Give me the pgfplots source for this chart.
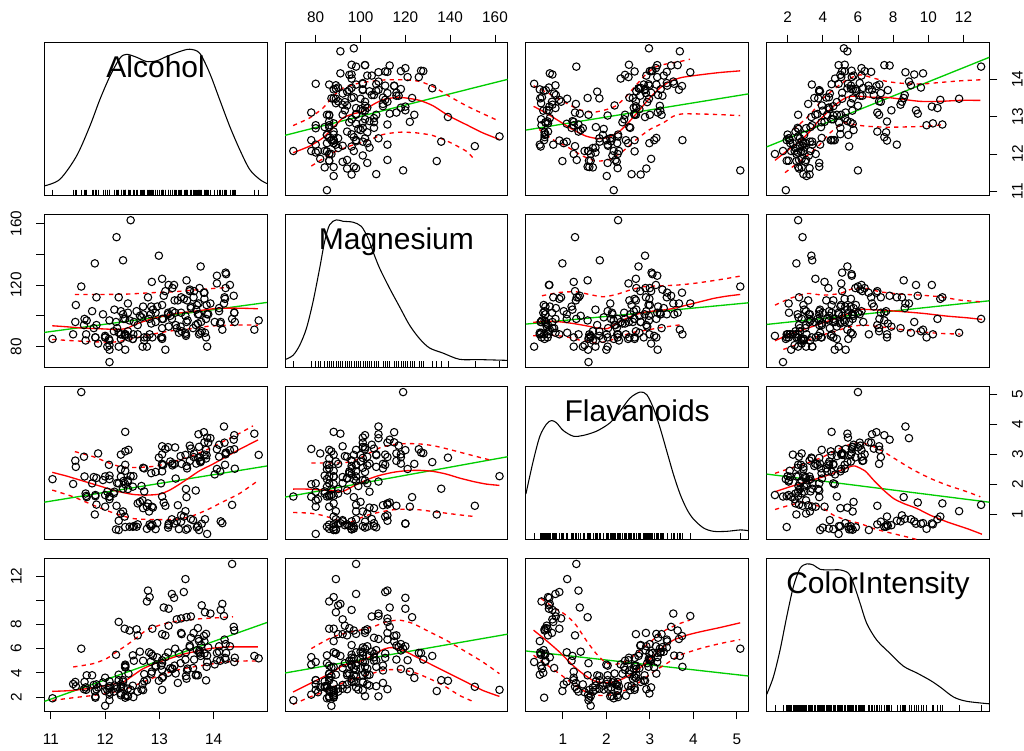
\documentclass[border=0pt]{standalone}
\usepackage{fontspec}
\setmainfont{Liberation Sans}
\usepackage{pgfplots}
\usepackage{pgfplotstable}
\pgfplotsset{compat=1.18}
\definecolor{green3}{RGB}{0,205,0}

\pgfplotstableread{
a m f c
14.23 127 3.06 5.64
13.20 100 2.76 4.38
13.16 101 3.24 5.68
14.37 113 3.49 7.80
13.24 118 2.69 4.32
14.20 112 3.39 6.75
14.39 96 2.52 5.25
14.06 121 2.51 5.05
14.83 97 2.98 5.20
13.86 98 3.15 7.22
14.10 105 3.32 5.75
14.12 95 2.43 5.00
13.75 89 2.76 5.60
14.75 91 3.69 5.40
14.38 102 3.64 7.50
13.63 112 2.91 7.30
14.30 120 3.14 6.20
13.83 115 3.40 6.60
14.19 108 3.93 8.70
13.64 116 3.03 5.10
14.06 126 3.17 5.65
12.93 102 2.41 4.50
13.71 101 2.88 3.80
12.85 95 2.37 3.93
13.50 96 2.61 3.52
13.05 124 2.68 3.58
13.39 93 2.94 4.80
13.30 94 2.19 3.95
13.87 107 2.97 4.50
14.02 96 2.33 4.70
13.73 101 3.25 5.70
13.58 106 3.19 6.90
13.68 104 2.69 3.84
13.76 132 2.74 5.40
13.51 110 2.53 4.20
13.48 100 2.98 5.10
13.28 110 2.68 4.60
13.05 98 2.43 4.25
13.07 98 2.64 3.70
14.22 128 3.04 5.10
13.56 117 3.29 6.13
13.41 90 2.68 7.20
13.88 101 3.56 5.43
13.24 103 2.63 4.36
13.05 107 3.00 5.04
14.21 111 2.65 5.24
14.38 102 3.17 4.90
13.90 101 3.39 6.10
14.10 103 2.92 6.20
13.94 108 3.54 8.90
13.05 92 3.27 7.20
13.83 111 2.99 5.60
13.82 115 3.74 7.05
13.77 96 2.79 6.30
13.74 118 2.90 5.85
13.56 116 2.78 6.25
14.22 118 3.00 6.38
13.29 102 3.23 6.00
13.72 108 3.67 6.80
12.37 88 0.57 1.95
12.33 101 1.09 3.27
12.64 100 1.41 5.75
13.67 94 1.79 3.80
12.37 87 3.10 4.45
12.17 104 1.75 2.95
12.37 98 2.65 4.60
13.11 78 3.18 5.30
12.37 78 2.00 4.68
13.34 110 1.30 3.17
12.21 151 1.28 2.85
12.29 103 1.02 3.05
13.86 86 2.86 3.38
13.49 87 1.84 3.74
12.99 139 2.89 3.35
11.96 101 2.14 3.21
11.66 97 1.57 3.80
13.03 86 2.03 4.60
11.84 112 1.32 2.65
12.33 136 1.85 3.40
12.70 101 2.55 2.57
12.00 86 2.26 2.50
12.72 86 2.53 3.90
12.08 78 1.58 2.20
13.05 85 1.59 4.80
11.84 94 2.21 3.05
12.67 99 1.94 2.62
12.16 90 1.69 2.45
11.65 88 1.61 2.60
11.64 84 1.69 2.80
12.08 70 1.59 1.74
12.08 81 1.50 2.40
12.00 86 1.25 3.60
12.69 80 1.46 3.05
12.29 88 2.25 2.15
11.62 98 2.26 3.25
12.47 162 2.27 2.60
11.81 134 0.99 2.50
12.29 85 2.50 2.90
12.37 88 3.75 4.50
12.29 88 2.99 2.30
12.08 97 2.17 3.30
12.60 88 1.36 2.45
12.34 98 2.11 2.80
11.82 86 1.64 2.06
12.51 85 1.92 2.94
12.42 90 1.84 2.70
12.25 80 2.03 3.40
12.72 84 1.76 3.30
12.22 92 2.04 2.70
11.61 94 2.92 2.65
11.46 107 2.58 2.90
12.52 88 2.27 2.00
11.76 103 2.03 3.80
11.41 88 2.01 3.08
12.08 84 2.29 2.90
11.03 85 2.17 1.90
11.82 86 1.60 1.95
12.42 108 2.09 2.06
12.77 80 1.25 3.40
12.00 87 1.64 1.28
11.45 96 2.79 3.25
11.56 119 5.08 6.00
12.42 102 2.13 2.08
13.05 86 2.65 2.60
11.87 82 3.03 2.80
12.07 85 2.65 2.76
12.43 86 3.15 3.94
11.79 92 2.24 3.00
12.37 88 2.45 2.12
12.04 80 1.75 2.60
12.86 122 1.25 4.10
12.88 104 1.22 5.40
12.81 98 1.09 5.70
12.70 106 1.20 5.00
12.51 85 0.58 5.45
12.60 94 0.66 7.10
12.25 89 0.47 3.85
12.53 96 0.60 5.00
13.49 88 0.48 5.70
12.84 101 0.60 4.92
12.93 96 0.50 4.60
13.36 89 0.50 5.60
13.52 97 0.52 4.35
13.62 92 0.80 4.40
12.25 112 0.78 8.21
13.16 102 0.55 4.00
13.88 80 0.34 4.90
12.87 86 0.65 7.65
13.32 92 0.76 8.42
13.08 113 1.39 9.40
13.50 123 1.57 8.60
12.79 112 1.36 10.80
13.11 116 1.28 7.10
13.23 98 0.83 10.52
12.58 103 0.58 7.60
13.17 93 0.63 7.90
13.84 89 0.83 9.01
12.45 97 0.58 7.50
14.34 98 1.31 13.00
13.48 89 1.10 11.75
12.36 88 0.92 7.65
13.69 107 0.56 5.88
12.85 106 0.60 5.58
12.96 106 0.70 5.28
13.78 90 0.68 9.58
13.73 88 0.47 6.62
13.45 111 0.92 10.68
12.82 88 0.66 10.26
13.58 105 0.84 8.66
13.40 112 0.96 8.50
12.20 96 0.49 5.50
12.77 86 0.51 9.90
14.16 91 0.70 9.70
13.71 95 0.61 7.70
13.40 102 0.75 7.30
13.27 120 0.69 10.20
13.17 120 0.68 9.30
14.13 96 0.76 9.20
}\wine

\tikzset{dlab/.style={anchor=base, font=\fontsize{22.5}{27}\selectfont}}
\pgfplotsset{
  spm/.style={scale only axis, width=167pt, height=114.9pt, anchor=north west,
    axis line style={line width=0.6pt}, tick align=outside, major tick length=6pt,
    tick style={black, line width=0.6pt}, xtick=\empty, ytick=\empty,
    tick label style={font=\fontsize{11.5}{13}\selectfont},
    /pgf/number format/assume math mode=true},
  xa/.style={xmin=10.878,xmax=14.982}, ya/.style={ymin=10.878,ymax=14.982},
  xm/.style={xmin=66.32,xmax=165.68}, ym/.style={ymin=66.32,ymax=165.68},
  xf/.style={xmin=0.15,xmax=5.27}, yf/.style={ymin=0.15,ymax=5.27},
  xc/.style={xmin=0.811,xmax=13.469}, yc/.style={ymin=0.811,ymax=13.469},
  yd/.style={ymin=0,ymax=1},
  pts/.style={only marks, mark=o, mark size=2.8pt, mark options={line width=0.8pt, draw=black}},
  gr/.style={no marks, line width=1pt, color=green3},
  rd/.style={no marks, line width=1pt, red, smooth, tension=0.4},
  rdd/.style={no marks, line width=1pt, red, dash pattern=on 3.2pt off 3.2pt, smooth, tension=0.4},
  dens/.style={no marks, black, line width=0.8pt, smooth, tension=0.5},
  rug/.style={only marks, mark=|, mark size=2.2pt, mark options={line width=0.4pt, draw=black}},
  topx/.style={xtick pos=right, xticklabel pos=right, xticklabel shift=5.5pt},
  boty/.style={xtick pos=left, xticklabel pos=left, xticklabel shift=7pt},
  lefty/.style={ytick pos=left, yticklabel pos=left, yticklabel shift=7.5pt, yticklabel style={rotate=90, anchor=south}},
  righty/.style={ytick pos=right, yticklabel pos=right, yticklabel shift=7.5pt, yticklabel style={rotate=90, anchor=north}},
}

\begin{document}
\begin{tikzpicture}
\useasboundingbox (0,0) rectangle (768pt,562.5pt);

% ---------------- Row 1 : Alcohol ----------------
\begin{axis}[spm, xa, yd, at={(33.2pt,530.5pt)}]
\addplot[dens] coordinates {(10.878,0.065)(11.166,0.108)(11.473,0.260)(11.718,0.455)(11.902,0.628)(12.086,0.779)(12.271,0.898)(12.393,0.924)(12.577,0.905)(12.761,0.877)(12.945,0.881)(13.129,0.909)(13.375,0.942)(13.559,0.957)(13.743,0.931)(13.927,0.801)(14.111,0.628)(14.295,0.455)(14.479,0.303)(14.663,0.173)(14.847,0.108)(14.982,0.080)};
\addplot[rug] table[x=a, y expr=0.022] {\wine};
\node[dlab] at (rel axis cs:0.5,0.77) {Alcohol};
\end{axis}

\begin{axis}[spm, xm, ya, at={(213.8pt,530.5pt)}, topx, xtick={80,100,120,140,160}]
\addplot[pts] table[x=m,y=a] {\wine};
\addplot[gr] coordinates {(66.32,12.50)(165.68,14.00)};
\addplot[rd] coordinates {(69.88,12.033)(77.31,12.211)(83.25,12.433)(87.71,12.699)(92.16,12.966)(96.62,13.072)(101.07,13.143)(105.53,13.321)(109.98,13.454)(115.92,13.516)(120.38,13.499)(126.32,13.436)(132.26,13.294)(139.69,13.010)(147.12,12.788)(154.54,12.566)(161.97,12.388)};
\addplot[rdd] coordinates {(69.88,12.761)(77.31,12.966)(83.25,13.232)(87.71,13.543)(92.16,13.765)(98.10,13.881)(104.04,13.943)(111.47,13.987)(120.38,13.987)(126.32,13.943)(132.26,13.810)(139.69,13.543)(147.12,13.294)(154.54,13.081)(161.97,12.877)};
\addplot[rdd] coordinates {(78.05,11.677)(83.25,11.873)(87.71,12.033)(95.13,12.211)(102.56,12.344)(109.98,12.521)(117.41,12.584)(124.84,12.566)(132.26,12.495)(139.69,12.317)(147.12,12.077)(150.09,11.900)};
\end{axis}

\begin{axis}[spm, xf, ya, at={(394.4pt,530.5pt)}]
\addplot[pts] table[x=f,y=a] {\wine};
\addplot[gr] coordinates {(0.15,12.64)(5.27,13.61)};
\addplot[rd] coordinates {(0.327,13.276)(0.612,13.099)(0.920,12.877)(1.228,12.655)(1.536,12.477)(1.844,12.406)(2.075,12.459)(2.306,12.610)(2.537,12.877)(2.768,13.188)(2.999,13.499)(3.230,13.765)(3.461,13.943)(3.731,14.049)(4.154,14.120)(4.616,14.183)(5.078,14.227)};
\addplot[rdd] coordinates {(0.327,13.827)(0.689,13.614)(1.074,13.365)(1.382,13.188)(1.690,13.117)(1.998,13.188)(2.229,13.294)(2.460,13.543)(2.691,13.854)(2.922,14.147)(3.153,14.342)(3.461,14.431)(3.692,14.476)(3.923,14.538)};
\addplot[rdd] coordinates {(0.458,12.655)(0.766,12.388)(1.074,12.211)(1.459,11.944)(1.767,11.811)(2.075,11.855)(2.383,12.077)(2.691,12.388)(2.999,12.655)(3.307,12.832)(3.538,13.010)(3.731,13.072)(4.154,13.072)(4.616,13.054)(5.078,13.028)};
\end{axis}

\begin{axis}[spm, xc, ya, at={(575.0pt,530.5pt)}, topx, xtick={2,4,6,8,10,12}, righty, ytick={11,12,13,14}]
\addplot[pts] table[x=c,y=a] {\wine};
\addplot[gr] coordinates {(0.811,12.19)(13.469,14.59)};
\addplot[rd] coordinates {(1.285,11.829)(1.950,12.077)(2.709,12.344)(3.278,12.610)(3.658,12.832)(4.132,13.054)(4.606,13.276)(5.176,13.472)(5.555,13.543)(6.124,13.543)(6.884,13.516)(7.643,13.516)(8.402,13.472)(9.540,13.410)(10.679,13.410)(11.818,13.436)(12.956,13.436)};
\addplot[rdd] coordinates {(2.329,12.655)(3.278,13.054)(4.037,13.499)(4.606,13.721)(5.365,13.987)(6.124,14.120)(6.884,14.032)(7.643,13.943)(8.402,13.898)(9.540,13.872)(10.679,13.916)(11.818,13.960)(12.956,13.987)};
\addplot[rdd] coordinates {(1.855,11.500)(2.709,11.811)(3.658,12.166)(4.417,12.566)(5.176,12.832)(5.745,12.788)(6.504,12.743)(7.643,12.717)(8.782,12.726)(9.920,12.743)(10.869,12.788)};
\end{axis}

% ---------------- Row 2 : Magnesium ----------------
\begin{axis}[spm, xa, ym, at={(33.2pt,401.6pt)}, lefty, ytick={80,100,120,140,160}, yticklabels={80,,120,,160}]
\addplot[pts] table[x=a,y=m] {\wine};
\addplot[gr] coordinates {(10.878,89.22)(14.982,108.66)};
\addplot[rd] coordinates {(11.025,93.54)(11.289,92.89)(11.596,92.02)(11.903,91.59)(12.209,91.16)(12.393,91.81)(12.577,94.74)(12.823,97.64)(13.068,99.80)(13.314,101.53)(13.559,102.61)(13.804,103.69)(14.050,104.77)(14.357,104.98)(14.663,104.77)(14.817,104.55)};
\addplot[rdd] coordinates {(11.442,113.84)(11.903,113.84)(12.393,114.06)(12.823,114.92)(13.252,115.57)(13.620,116.65)(13.988,117.73)(14.295,118.38)};
\addplot[rdd] coordinates {(11.025,84.68)(11.412,83.82)(11.780,83.17)(12.148,82.95)(12.393,84.25)(12.700,86.84)(13.007,89.00)(13.314,90.73)(13.620,91.81)(13.927,93.32)(14.357,93.97)(14.817,93.97)};
\end{axis}

\begin{axis}[spm, xm, yd, at={(213.8pt,401.6pt)}]
\addplot[dens] coordinates {(66.32,0.053)(69.88,0.081)(72.85,0.147)(75.83,0.256)(78.80,0.431)(81.77,0.650)(83.99,0.825)(86.22,0.934)(89.19,0.965)(92.16,0.956)(96.62,0.950)(100.33,0.923)(103.30,0.847)(105.53,0.759)(108.50,0.650)(112.95,0.519)(117.41,0.398)(121.87,0.278)(126.32,0.190)(130.78,0.129)(136.72,0.096)(144.14,0.055)(153.05,0.053)(165.68,0.048)};
\addplot[rug] table[x=m, y expr=0.022] {\wine};
\node[dlab] at (rel axis cs:0.5,0.77) {Magnesium};
\end{axis}

\begin{axis}[spm, xf, ym, at={(394.4pt,401.6pt)}]
\addplot[pts] table[x=f,y=m] {\wine};
\addplot[gr] coordinates {(0.15,94.62)(5.27,108.44)};
\addplot[rd] coordinates {(0.319,95.70)(0.612,96.56)(0.920,96.13)(1.228,95.05)(1.536,93.54)(1.844,91.81)(2.037,91.81)(2.229,95.05)(2.460,98.29)(2.691,100.88)(2.922,102.61)(3.230,103.47)(3.538,104.76)(3.846,106.93)(4.154,109.09)(4.462,111.25)(4.770,112.76)(5.078,113.84)};
\addplot[rdd] coordinates {(0.520,112.98)(0.920,115.14)(1.305,115.57)(1.613,113.84)(1.921,112.33)(2.229,113.84)(2.537,116.65)(2.845,118.81)(3.230,119.46)(3.615,119.89)(4.000,120.97)(4.385,122.48)(4.770,124.21)(5.117,125.94)};
\addplot[rdd] coordinates {(0.319,87.06)(0.689,87.49)(1.074,86.41)(1.382,84.25)(1.690,82.74)(1.998,83.17)(2.306,86.41)(2.614,89.22)(2.922,90.73)(3.230,92.24)(3.538,93.54)(3.769,94.40)};
\end{axis}

\begin{axis}[spm, xc, ym, at={(575.0pt,401.6pt)}]
\addplot[pts] table[x=c,y=m] {\wine};
\addplot[gr] coordinates {(0.811,94.40)(13.469,109.74)};
\addplot[rd] coordinates {(1.285,83.82)(2.139,88.14)(3.088,91.81)(4.037,95.48)(4.986,99.37)(5.555,101.96)(6.030,104.12)(6.504,104.12)(7.263,103.69)(8.402,102.82)(9.730,101.53)(11.059,99.80)(12.197,98.72)(13.051,97.64)};
\addplot[rdd] coordinates {(1.285,106.93)(2.139,111.25)(3.088,114.49)(4.037,113.41)(4.986,114.49)(5.745,117.73)(6.504,117.73)(7.263,115.57)(8.402,114.06)(9.541,113.41)(10.679,112.33)(11.818,110.17)(12.956,109.09)};
\addplot[rdd] coordinates {(1.760,78.20)(2.709,82.09)(3.658,86.41)(4.606,89.65)(5.555,92.89)(6.314,93.97)(7.263,92.89)(8.402,91.16)(9.541,89.65)(10.679,88.57)(11.818,88.14)};
\end{axis}

% ---------------- Row 3 : Flavanoids ----------------
\begin{axis}[spm, xa, yf, at={(33.2pt,272.7pt)}]
\addplot[pts] table[x=a,y=f] {\wine};
\addplot[gr] coordinates {(10.878,1.40)(14.982,2.61)};
\addplot[rd] coordinates {(11.025,2.397)(11.289,2.274)(11.596,2.106)(11.903,1.939)(12.209,1.771)(12.516,1.659)(12.761,1.637)(13.007,1.670)(13.191,1.805)(13.375,2.006)(13.559,2.229)(13.743,2.453)(13.988,2.676)(14.234,2.922)(14.479,3.168)(14.817,3.481)};
\addplot[rdd] coordinates {(11.442,3.090)(11.780,2.922)(12.087,2.699)(12.332,2.565)(12.639,2.565)(12.945,2.609)(13.252,2.755)(13.559,2.922)(13.866,3.146)(14.172,3.425)(14.479,3.705)(14.725,3.951)};
\addplot[rdd] coordinates {(11.025,1.805)(11.412,1.581)(11.780,1.301)(12.148,1.044)(12.516,0.854)(12.884,0.821)(13.252,0.821)(13.559,0.910)(13.866,1.134)(14.172,1.413)(14.479,1.693)(14.817,2.118)};
\end{axis}

\begin{axis}[spm, xm, yf, at={(213.8pt,272.7pt)}]
\addplot[pts] table[x=m,y=f] {\wine};
\addplot[gr] coordinates {(66.32,1.57)(165.68,2.92)};
\addplot[rd] coordinates {(69.88,1.838)(75.83,1.838)(81.77,1.816)(87.71,1.782)(92.16,1.760)(95.13,1.872)(99.59,2.039)(104.04,2.185)(108.50,2.296)(114.44,2.397)(120.38,2.453)(126.32,2.464)(132.26,2.431)(138.20,2.341)(144.14,2.207)(150.08,2.095)(156.03,2.006)(161.97,1.961)};
\addplot[rdd] coordinates {(78.05,2.710)(84.74,2.710)(90.68,2.710)(96.62,2.766)(102.56,2.990)(108.50,3.213)(114.44,3.325)(120.38,3.358)(126.32,3.347)(132.26,3.291)(138.20,3.191)(145.63,3.045)(153.06,2.900)(158.99,2.788)};
\addplot[rdd] coordinates {(69.88,1.056)(77.31,1.033)(83.25,0.955)(89.19,0.810)(93.65,0.698)(98.10,0.810)(102.56,0.955)(108.50,1.067)(114.44,1.145)(120.38,1.167)(126.32,1.145)(132.26,1.089)(138.20,1.033)(144.14,0.977)(150.83,0.921)};
\end{axis}

\begin{axis}[spm, xf, yd, at={(394.4pt,272.7pt)}]
\addplot[dens] coordinates {(0.150,0.297)(0.319,0.513)(0.472,0.675)(0.626,0.755)(0.741,0.777)(0.856,0.762)(1.010,0.712)(1.240,0.675)(1.470,0.680)(1.777,0.708)(2.084,0.762)(2.315,0.838)(2.545,0.924)(2.775,0.963)(2.929,0.946)(3.082,0.859)(3.236,0.729)(3.389,0.578)(3.543,0.426)(3.696,0.297)(3.850,0.199)(4.003,0.134)(4.234,0.076)(4.464,0.054)(4.771,0.054)(5.078,0.063)(5.270,0.058)};
\addplot[rug] table[x=f, y expr=0.022] {\wine};
\node[dlab] at (rel axis cs:0.5,0.77) {Flavanoids};
\end{axis}

\begin{axis}[spm, xc, yf, at={(575.0pt,272.7pt)}, righty, ytick={1,2,3,4,5}]
\addplot[pts] table[x=c,y=f] {\wine};
\addplot[gr] coordinates {(0.811,2.34)(13.469,1.40)};
\addplot[rd] coordinates {(1.285,1.749)(2.139,1.916)(3.088,2.084)(4.037,2.252)(4.986,2.453)(5.555,2.587)(5.840,2.609)(6.409,2.442)(6.884,2.140)(7.453,1.805)(8.022,1.525)(8.592,1.357)(9.351,1.190)(10.110,0.966)(11.059,0.743)(12.197,0.519)(13.051,0.329)};
\addplot[rdd] coordinates {(1.285,2.364)(2.139,2.531)(3.088,2.699)(4.037,2.922)(4.986,3.202)(5.745,3.370)(6.314,3.370)(6.884,3.258)(7.453,3.090)(8.212,2.811)(9.161,2.475)(10.110,2.196)(11.059,1.972)(12.197,1.749)(12.956,1.581)};
\addplot[rdd] coordinates {(1.285,1.156)(2.139,1.301)(3.088,1.413)(4.037,1.190)(4.606,0.966)(5.365,0.798)(6.125,0.687)(6.884,0.519)(7.833,0.374)(8.782,0.240)(9.351,0.150)};
\end{axis}

% ---------------- Row 4 : ColorIntensity ----------------
\begin{axis}[spm, xa, yc, at={(33.2pt,143.8pt)}, boty, xtick={11,12,13,14}, lefty, ytick={2,4,6,8,10,12}, yticklabels={2,4,6,8,,12}]
\addplot[pts] table[x=a,y=c] {\wine};
\addplot[gr] coordinates {(10.878,1.64)(14.982,8.16)};
\addplot[rd] coordinates {(11.025,2.469)(11.412,2.552)(11.780,2.773)(12.087,3.022)(12.332,3.243)(12.516,3.796)(12.700,4.348)(12.945,4.818)(13.191,5.178)(13.436,5.537)(13.682,5.786)(13.927,6.007)(14.234,6.145)(14.541,6.145)(14.817,6.145)};
\addplot[rdd] coordinates {(11.412,4.487)(11.780,4.763)(12.025,5.178)(12.209,5.731)(12.393,6.283)(12.577,6.891)(12.761,7.527)(13.007,7.941)(13.252,8.218)(13.498,8.356)(13.743,8.467)(14.050,8.549)(14.357,8.632)};
\addplot[rdd] coordinates {(11.025,1.723)(11.412,1.944)(11.780,2.137)(12.087,2.331)(12.393,2.690)(12.700,3.243)(13.007,3.796)(13.314,4.210)(13.620,4.487)(13.927,4.708)(14.234,4.901)(14.541,4.984)(14.817,4.984)};
\end{axis}

\begin{axis}[spm, xm, yc, at={(213.8pt,143.8pt)}]
\addplot[pts] table[x=m,y=c] {\wine};
\addplot[gr] coordinates {(66.32,3.99)(165.68,7.20)};
\addplot[rd] coordinates {(69.88,2.414)(77.31,3.105)(83.25,3.658)(87.71,4.072)(92.16,4.625)(96.62,4.818)(101.07,5.040)(105.53,5.454)(109.97,5.924)(113.70,6.090)(118.90,5.869)(124.84,5.316)(132.26,4.625)(139.69,3.934)(147.12,3.243)(154.54,2.552)(161.97,2.054)};
\addplot[rdd] coordinates {(78.05,6.007)(83.25,6.560)(87.71,6.974)(93.65,7.306)(99.59,7.527)(105.53,7.803)(111.47,8.218)(117.41,8.356)(123.35,8.080)(130.78,7.389)(138.20,6.698)(147.12,5.731)(154.54,4.901)(161.97,3.934)};
\addplot[rdd] coordinates {(69.88,1.391)(77.31,1.999)(83.25,2.414)(87.71,2.828)(95.13,3.381)(102.56,3.796)(109.97,4.210)(115.93,4.266)(123.35,4.072)(130.78,3.519)(138.20,2.828)(144.14,2.137)(150.83,1.585)};
\end{axis}

\begin{axis}[spm, xf, yc, at={(394.4pt,143.8pt)}, boty, xtick={1,2,3,4,5}]
\addplot[pts] table[x=f,y=c] {\wine};
\addplot[gr] coordinates {(0.15,5.81)(5.27,3.74)};
\addplot[rd] coordinates {(0.327,7.527)(0.612,6.698)(0.920,5.731)(1.228,4.625)(1.459,3.934)(1.690,3.381)(1.921,3.188)(2.152,3.243)(2.383,3.519)(2.614,3.989)(2.845,4.625)(3.076,5.371)(3.307,6.145)(3.538,6.698)(3.846,7.112)(4.154,7.389)(4.616,7.748)(5.078,8.135)};
\addplot[rdd] coordinates {(0.497,10.152)(0.766,9.461)(1.074,8.771)(1.305,7.941)(1.536,6.698)(1.767,5.592)(1.998,4.818)(2.229,4.708)(2.460,4.984)(2.691,5.592)(2.922,6.283)(3.153,6.974)(3.384,7.582)(3.692,8.080)(3.923,8.356)};
\addplot[rdd] coordinates {(0.327,5.454)(0.612,4.708)(0.920,3.934)(1.228,3.105)(1.536,2.414)(1.844,2.137)(2.152,2.220)(2.460,2.607)(2.768,3.243)(3.076,4.072)(3.384,4.763)(3.692,5.454)(4.154,6.007)(4.616,6.421)(5.078,6.753)};
\end{axis}

\begin{axis}[spm, xc, yd, at={(575.0pt,143.8pt)}]
\addplot[dens] coordinates {(0.811,0.111)(1.191,0.225)(1.570,0.400)(1.950,0.618)(2.329,0.814)(2.709,0.934)(3.088,0.963)(3.468,0.956)(3.847,0.928)(4.417,0.924)(4.986,0.924)(5.461,0.902)(5.745,0.836)(6.125,0.705)(6.504,0.574)(7.074,0.465)(7.833,0.378)(8.592,0.295)(9.351,0.251)(10.110,0.203)(10.679,0.159)(11.438,0.094)(12.198,0.066)(13.469,0.050)};
\addplot[rug] table[x=c, y expr=0.022] {\wine};
\node[dlab] at (rel axis cs:0.5,0.77) {ColorIntensity};
\end{axis}

\end{tikzpicture}
\end{document}
